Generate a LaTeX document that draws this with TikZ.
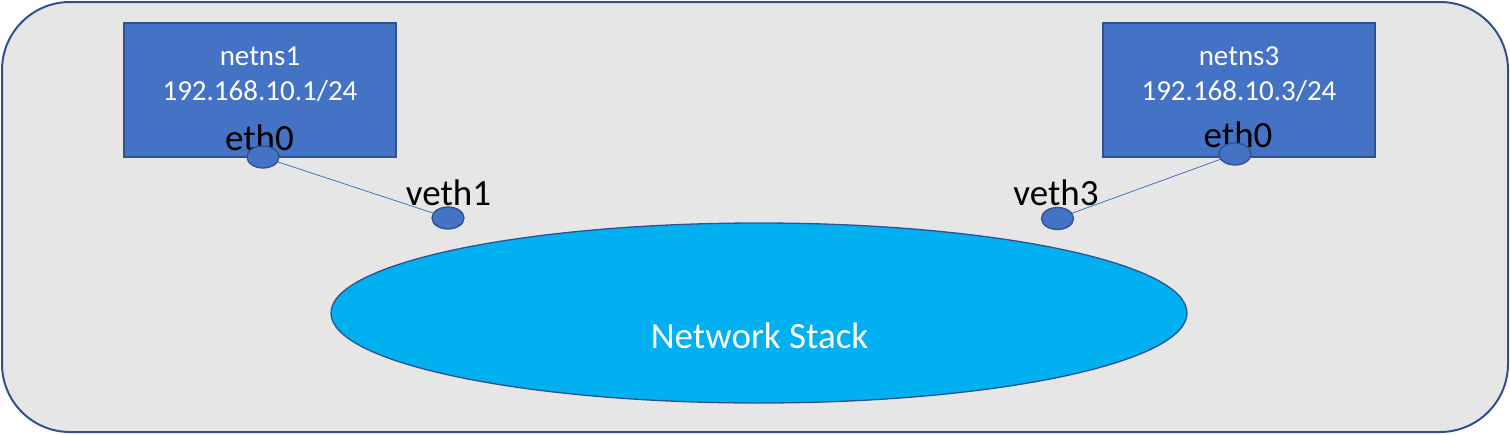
\documentclass[tikz,border=0pt]{standalone}
\usepackage{fontspec}
\setmainfont{Carlito}
\usetikzlibrary{shapes.geometric}
\definecolor{bgray}{HTML}{E7E6E6}
\definecolor{dblue}{HTML}{2F528F}
\definecolor{mblue}{HTML}{4472C4}
\definecolor{cyanb}{HTML}{00B0F0}
\begin{document}
\begin{tikzpicture}[x=1pt,y=-1pt,
  nsbox/.style={draw=dblue,fill=mblue,line width=1.3pt,minimum width=272pt,minimum height=134pt,inner sep=0pt},
  boxtext/.style={text=white,font=\fontsize{29}{31}\selectfont,anchor=base,inner sep=0pt},
  port/.style={ellipse,draw=dblue,fill=mblue,line width=1.3pt,minimum width=32pt,minimum height=22pt,inner sep=0pt},
  portlabel/.style={text=black,font=\fontsize{37}{40}\selectfont,anchor=base,inner sep=0pt},
  link/.style={draw=mblue,line width=0.8pt}]
\useasboundingbox (0,0) rectangle (1510,434);
\node[draw=dblue,fill=bgray,line width=2pt,rounded corners=68pt,minimum width=1506pt,minimum height=430pt,inner sep=0pt] (host) at (755,217) {};
\node[nsbox] (ns1) at (260,90) {};
\node[nsbox] (ns3) at (1239,90) {};
\node[boxtext] (ns1name) at (260,65) {netns1};
\node[boxtext] (ns1ip) at (260,100) {192.168.10.1/24};
\node[boxtext] (ns3name) at (1239,65) {netns3};
\node[boxtext] (ns3ip) at (1239,100) {192.168.10.3/24};
\node[ellipse,draw=dblue,fill=cyanb,line width=1.3pt,minimum width=856pt,minimum height=180pt,inner sep=0pt] (stack) at (759,313) {};
\node[text=white,font=\fontsize{37}{40}\selectfont,anchor=base,inner sep=0pt] (stacklabel) at (759.5,348) {Network Stack};
\node[portlabel] (eth0l) at (259.5,150) {eth0};
\node[portlabel] (eth0r) at (1238,147) {eth0};
\node[portlabel] (veth1l) at (448.5,205) {veth1};
\node[portlabel] (veth3l) at (1056,205) {veth3};
\node[port] (eth0a) at (263,157) {};
\node[port] (eth0b) at (1235,154) {};
\node[port] (veth1) at (448,218) {};
\node[port] (veth3) at (1057.5,218.5) {};
\draw[link] (eth0a) -- (veth1);
\draw[link] (eth0b) -- (veth3);
\end{tikzpicture}
\end{document}
